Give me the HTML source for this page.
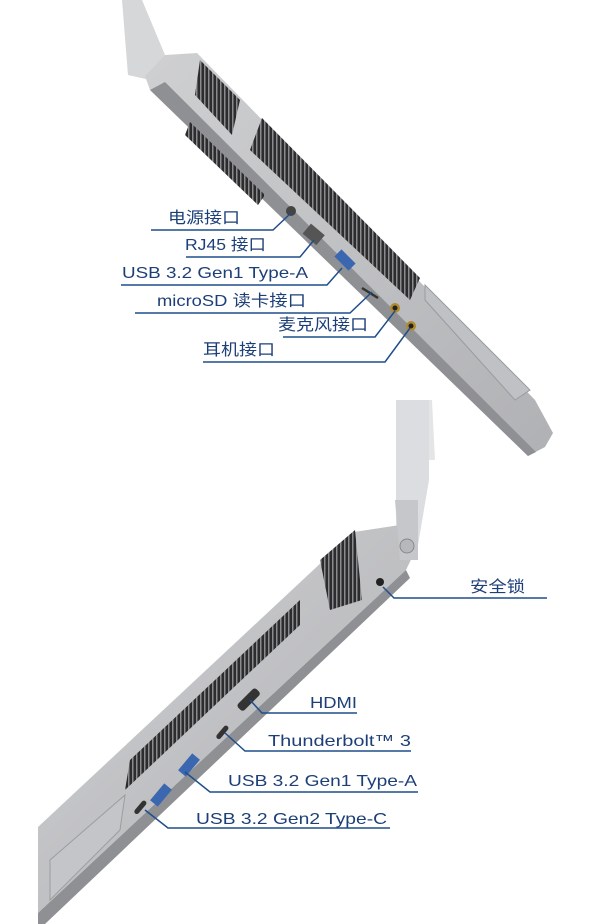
<!DOCTYPE html>
<html><head><meta charset="utf-8"><style>
html,body{margin:0;padding:0;background:#fff;width:600px;height:924px;overflow:hidden}
svg{display:block}
text{font-family:"Liberation Sans","Noto Sans CJK SC",sans-serif;font-size:16px;fill:#1d3f78}
</style></head><body>
<svg width="600" height="924" viewBox="0 0 600 924">
<defs>
<linearGradient id="g1" x1="0" y1="0" x2="1" y2="1"><stop offset="0" stop-color="#cfd0d2"/><stop offset="1" stop-color="#b0b1b4"/></linearGradient>
<pattern id="vent" width="4" height="4" patternUnits="userSpaceOnUse"><rect width="4" height="4" fill="#2c2c2e"/><rect width="1.5" height="4" fill="#8a8b8e"/></pattern>
</defs>
<!-- TOP LAPTOP -->
<polygon points="122,0 142,0 165,55 150,80 128,75" fill="#d6d7d9"/>
<polygon points="197,53 535,400 553,433 545,447 528,456 150,90 145,76 165,55" fill="url(#g1)"/>
<polygon points="150,90 528,456 536,452 165,82" fill="#8f9093"/>
<polygon points="200,60 240,100 232,135 195,95" fill="url(#vent)"/>
<polygon points="190,122 265,195 258,205 185,135" fill="url(#vent)"/>
<polygon points="262,118 420,278 410,300 250,150" fill="url(#vent)"/>
<polygon points="425,285 530,390 515,400 425,300" fill="#c0c1c4" stroke="#9a9b9e"/>
<circle cx="291" cy="211" r="5" fill="#444"/>
<rect x="305" y="228" width="18" height="13" fill="#555" transform="rotate(40 314 234)"/>
<rect x="335" y="255" width="20" height="10" fill="#3a67b0" transform="rotate(45 345 260)"/>
<line x1="362" y1="288" x2="378" y2="298" stroke="#333" stroke-width="2.5"/>
<circle cx="395" cy="308" r="5" fill="#b08a2e"/><circle cx="395" cy="308" r="2.5" fill="#222"/>
<circle cx="411" cy="326" r="5" fill="#b08a2e"/><circle cx="411" cy="326" r="2.5" fill="#222"/>
<polygon points="410,400 432,400 435,460 415,460" fill="#e4e5e7"/>
<!-- BOTTOM LAPTOP -->
<polygon points="396,400 429,400 429,480 418,545 396,545" fill="#dcdde0"/>
<polygon points="354,532 400,525 418,545 406,570 38,913 38,827" fill="url(#g1)"/>
<polygon points="406,570 38,913 38,924 45,924 410,578" fill="#8f9093"/>
<polygon points="395,500 418,500 418,560 400,560" fill="#c6c7ca"/>
<circle cx="407" cy="546" r="7" fill="#b7b8bb" stroke="#888"/>
<polygon points="320,560 355,530 362,600 330,610" fill="url(#vent)"/>
<polygon points="300,600 130,760 125,790 300,625" fill="url(#vent)"/>
<polygon points="125,795 50,860 50,900 120,830" fill="#c4c5c8" stroke="#9c9da0"/>
<circle cx="380" cy="582" r="4" fill="#222"/>
<rect x="236" y="695" width="26" height="9" rx="3" fill="#333" transform="rotate(-45 249 700)"/>
<rect x="214" y="730" width="16" height="5" rx="2.5" fill="#333" transform="rotate(-50 222 732)"/>
<rect x="178" y="760" width="22" height="10" fill="#3a67b0" transform="rotate(-50 189 765)"/>
<rect x="150" y="790" width="22" height="10" fill="#3a67b0" transform="rotate(-50 161 795)"/>
<rect x="132" y="805" width="16" height="5" rx="2.5" fill="#333" transform="rotate(-50 140 807)"/>
<!-- LINES -->
<g stroke="#1f4e8c" stroke-width="1.5" fill="none">
<polyline points="151,230 273,230 291,213"/>
<polyline points="186,257 300,257 314,240"/>
<polyline points="121,285 327,285 342,268"/>
<polyline points="135,313 350,313 372,292"/>
<polyline points="283,337 375,337 395,311"/>
<polyline points="203,362 385,362 410,328"/>
<polyline points="383,587 394,598 547,598"/>
<polyline points="250,700 262,713 357,713"/>
<polyline points="225,733 245,751 411,751"/>
<polyline points="185,772 210,792 418,792"/>
<polyline points="145,810 168,828 390,828"/>
</g>
<text x="168" y="223" textLength="72" lengthAdjust="spacingAndGlyphs">电源接口</text>
<text x="185" y="250" textLength="81" lengthAdjust="spacingAndGlyphs">RJ45 接口</text>
<text x="122" y="278" textLength="186" lengthAdjust="spacingAndGlyphs">USB 3.2 Gen1 Type-A</text>
<text x="157" y="306" textLength="149" lengthAdjust="spacingAndGlyphs">microSD 读卡接口</text>
<text x="278" y="330" textLength="90" lengthAdjust="spacingAndGlyphs">麦克风接口</text>
<text x="203" y="355" textLength="72" lengthAdjust="spacingAndGlyphs">耳机接口</text>
<text x="470" y="592" textLength="55" lengthAdjust="spacingAndGlyphs">安全锁</text>
<text x="310" y="708" textLength="47" lengthAdjust="spacingAndGlyphs">HDMI</text>
<text x="268" y="746" textLength="143" lengthAdjust="spacingAndGlyphs">Thunderbolt™ 3</text>
<text x="228" y="786" textLength="189" lengthAdjust="spacingAndGlyphs">USB 3.2 Gen1 Type-A</text>
<text x="196" y="824" textLength="191" lengthAdjust="spacingAndGlyphs">USB 3.2 Gen2 Type-C</text>
</svg>
</body></html>
